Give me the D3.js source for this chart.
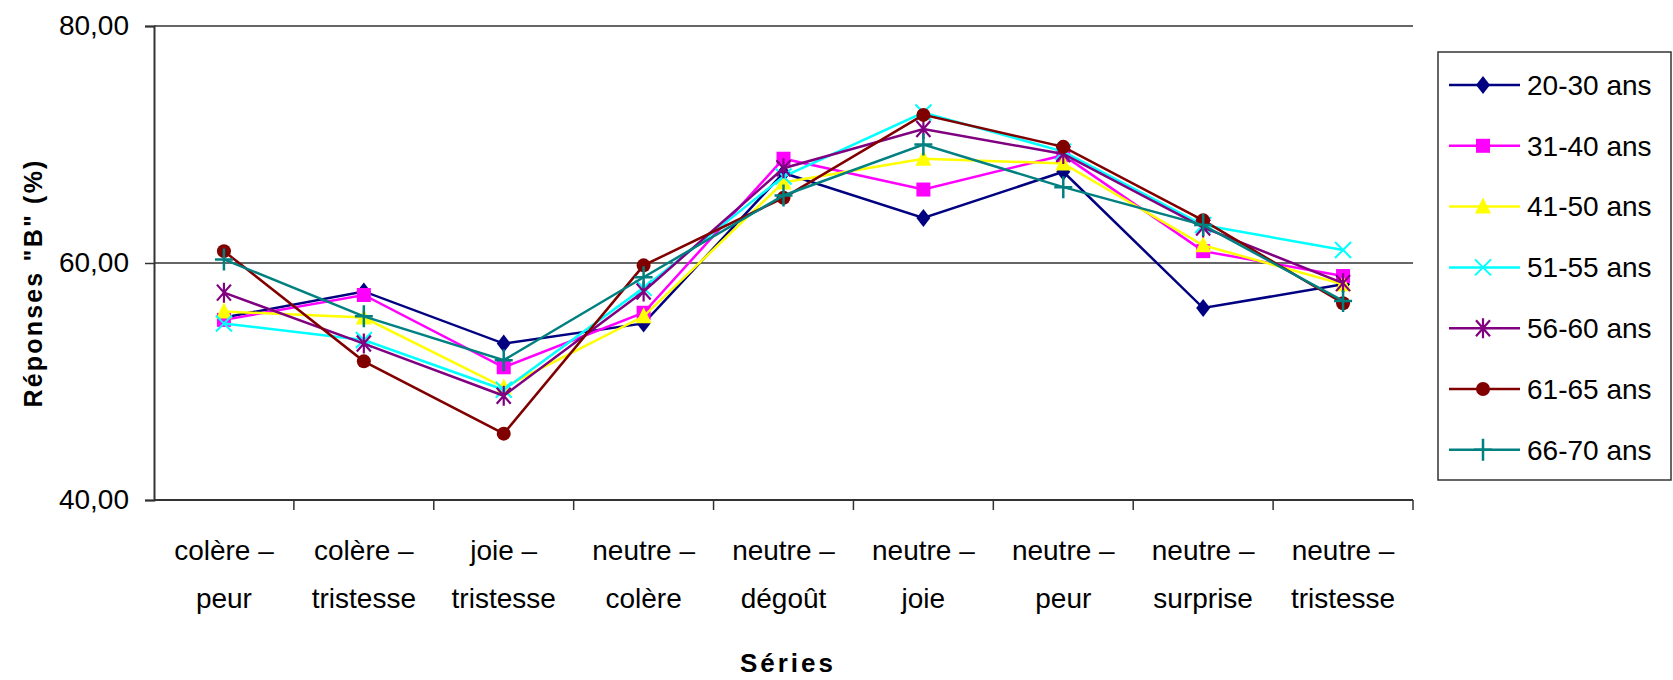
<!DOCTYPE html>
<html>
<head>
<meta charset="utf-8">
<script src="https://cdn.jsdelivr.net/npm/d3@7"></script>
<style>
  html, body { margin: 0; padding: 0; background: #fff; }
  svg { display: block; }
  text { font-family: "Liberation Sans", Arial, sans-serif; fill: #000; }
</style>
</head>
<body>
<svg id="chart" width="1673" height="680"></svg>
<script>
// ---- data ----
const categories = [
  "colère –\npeur", "colère –\ntristesse", "joie –\ntristesse", "neutre –\ncolère",
  "neutre –\ndégoût", "neutre –\njoie", "neutre –\npeur", "neutre –\nsurprise", "neutre –\ntristesse"
];
const seriesNames = ["20-30 ans", "31-40 ans", "41-50 ans", "51-55 ans", "56-60 ans", "61-65 ans", "66-70 ans"];
const v20_30 = [55.4, 57.6, 53.2, 54.9, 67.6, 63.8, 67.7, 56.2, 58.2];
const v31_40 = [55.2, 57.3, 51.2, 55.8, 68.8, 66.2, 69.1, 61.0, 58.9];
const v41_50 = [55.9, 55.4, 49.5, 55.5, 66.8, 68.8, 68.4, 61.5, 58.2];
const v51_55 = [54.9, 53.5, 49.3, 57.9, 67.3, 72.7, 69.4, 63.2, 61.1];
const v56_60 = [57.5, 53.2, 48.8, 57.6, 68.0, 71.3, 69.2, 63.0, 58.3];
const v61_65 = [61.0, 51.7, 45.6, 59.8, 65.5, 72.5, 69.8, 63.6, 56.6];
const v66_70 = [60.3, 55.5, 51.8, 58.8, 65.7, 70.0, 66.4, 63.2, 56.8];
const yTicks = [40, 60, 80];
const yTitle = 'Réponses "B" (%)';
const xTitle = "Séries";

const seriesValues = [v20_30, v31_40, v41_50, v51_55, v56_60, v61_65, v66_70];
const colors = ["#000080", "#FF00FF", "#FFFF00", "#00FFFF", "#800080", "#800000", "#008080"];
const markers = ["diamond", "square", "triangle", "x", "star", "circle", "plus"];

// ---- layout ----
const svg = d3.select("#chart");
const plotL = 154, plotR = 1413, plotT = 26, plotB = 500;

const x = d3.scaleBand().domain(categories).range([plotL, plotR]).paddingInner(0).paddingOuter(0);
const y = d3.scaleLinear().domain([40, 80]).range([plotB, plotT]);
const cx = d => x(d) + x.bandwidth() / 2;

// gridlines
svg.append("g").selectAll("line").data(yTicks.filter(t => t > 40)).join("line")
  .attr("x1", plotL).attr("x2", plotR)
  .attr("y1", d => y(d)).attr("y2", d => y(d))
  .attr("stroke", "#333").attr("stroke-width", 1.5);

// y axis
const yAxis = svg.append("g").attr("transform", `translate(${plotL},0)`)
  .call(d3.axisLeft(y).tickValues(yTicks).tickSize(9).tickPadding(16)
    .tickFormat(d => d.toFixed(2).replace(".", ",")));
yAxis.select(".domain").attr("stroke", "#333").attr("stroke-width", 2);
yAxis.selectAll(".tick line").attr("stroke", "#333").attr("stroke-width", 1.5);
yAxis.selectAll("text").attr("font-size", 28).attr("fill", "#000")
  .attr("font-family", '"Liberation Sans", Arial, sans-serif');

// x axis line
svg.append("line").attr("x1", plotL).attr("x2", plotR).attr("y1", y(40)).attr("y2", y(40))
  .attr("stroke", "#333").attr("stroke-width", 2);
// x ticks at band edges
const edges = categories.map(c => x(c)).concat([x.range()[1]]);
svg.append("g").selectAll("line").data(edges.slice(1)).join("line")
  .attr("x1", d => d).attr("x2", d => d).attr("y1", y(40)).attr("y2", y(40) + 10)
  .attr("stroke", "#333").attr("stroke-width", 1.5);

// x labels
const xl = svg.append("g").selectAll("text").data(categories).join("text")
  .attr("text-anchor", "middle").attr("font-size", 28);
xl.each(function(d) {
  const lines = d.split("\n");
  const t = d3.select(this);
  lines.forEach((ln, i) => {
    t.append("tspan").attr("x", cx(d)).attr("y", 560 + i * 48).text(ln);
  });
});

// axis titles
svg.append("text").attr("x", 788).attr("y", 672).attr("text-anchor", "middle")
  .attr("font-size", 26).attr("font-weight", "bold").attr("letter-spacing", 3).text(xTitle);
svg.append("text").attr("transform", "translate(42,283) rotate(-90)").attr("text-anchor", "middle")
  .attr("font-size", 25).attr("font-weight", "bold").attr("letter-spacing", 2.2).text(yTitle);

// marker drawing
function drawMarker(g, type, color, px, py) {
  if (type === "diamond") {
    g.append("path").attr("d", `M${px},${py - 9}L${px + 7},${py}L${px},${py + 9}L${px - 7},${py}Z`)
      .attr("fill", color);
  } else if (type === "square") {
    g.append("rect").attr("x", px - 7).attr("y", py - 7).attr("width", 14).attr("height", 14).attr("fill", color);
  } else if (type === "triangle") {
    g.append("path").attr("d", `M${px},${py - 9}L${px + 8},${py + 7}L${px - 8},${py + 7}Z`).attr("fill", color);
  } else if (type === "circle") {
    g.append("circle").attr("cx", px).attr("cy", py).attr("r", 7).attr("fill", color);
  } else if (type === "x") {
    g.append("path").attr("d", `M${px - 8},${py - 8}L${px + 8},${py + 8}M${px - 8},${py + 8}L${px + 8},${py - 8}`)
      .attr("stroke", color).attr("stroke-width", 2).attr("fill", "none");
  } else if (type === "star") {
    g.append("path").attr("d", `M${px - 7},${py - 8}L${px + 7},${py + 8}M${px - 7},${py + 8}L${px + 7},${py - 8}M${px},${py - 10}L${px},${py + 10}`)
      .attr("stroke", color).attr("stroke-width", 2.2).attr("fill", "none");
  } else if (type === "plus") {
    g.append("path").attr("d", `M${px - 9},${py}L${px + 9},${py}M${px},${py - 11}L${px},${py + 11}`)
      .attr("stroke", color).attr("stroke-width", 2.5).attr("fill", "none");
  }
}

// series
const line = d3.line().x((d, i) => cx(categories[i])).y(d => y(d));
seriesValues.forEach((vals, si) => {
  const g = svg.append("g");
  g.append("path").datum(vals).attr("d", line).attr("fill", "none")
    .attr("stroke", colors[si]).attr("stroke-width", 2.5);
  vals.forEach((v, i) => drawMarker(g, markers[si], colors[si], cx(categories[i]), y(v)));
});

// legend
const lg = svg.append("g");
lg.append("rect").attr("x", 1438).attr("y", 52).attr("width", 233).attr("height", 428)
  .attr("fill", "#fff").attr("stroke", "#333").attr("stroke-width", 1.5);
seriesNames.forEach((nm, i) => {
  const ly = 85 + i * 60.8;
  lg.append("line").attr("x1", 1449).attr("x2", 1520).attr("y1", ly).attr("y2", ly)
    .attr("stroke", colors[i]).attr("stroke-width", 2.5);
  drawMarker(lg, markers[i], colors[i], 1483, ly);
  lg.append("text").attr("x", 1527).attr("y", ly).attr("dy", "0.35em").attr("font-size", 28).text(nm);
});
</script>
</body>
</html>
